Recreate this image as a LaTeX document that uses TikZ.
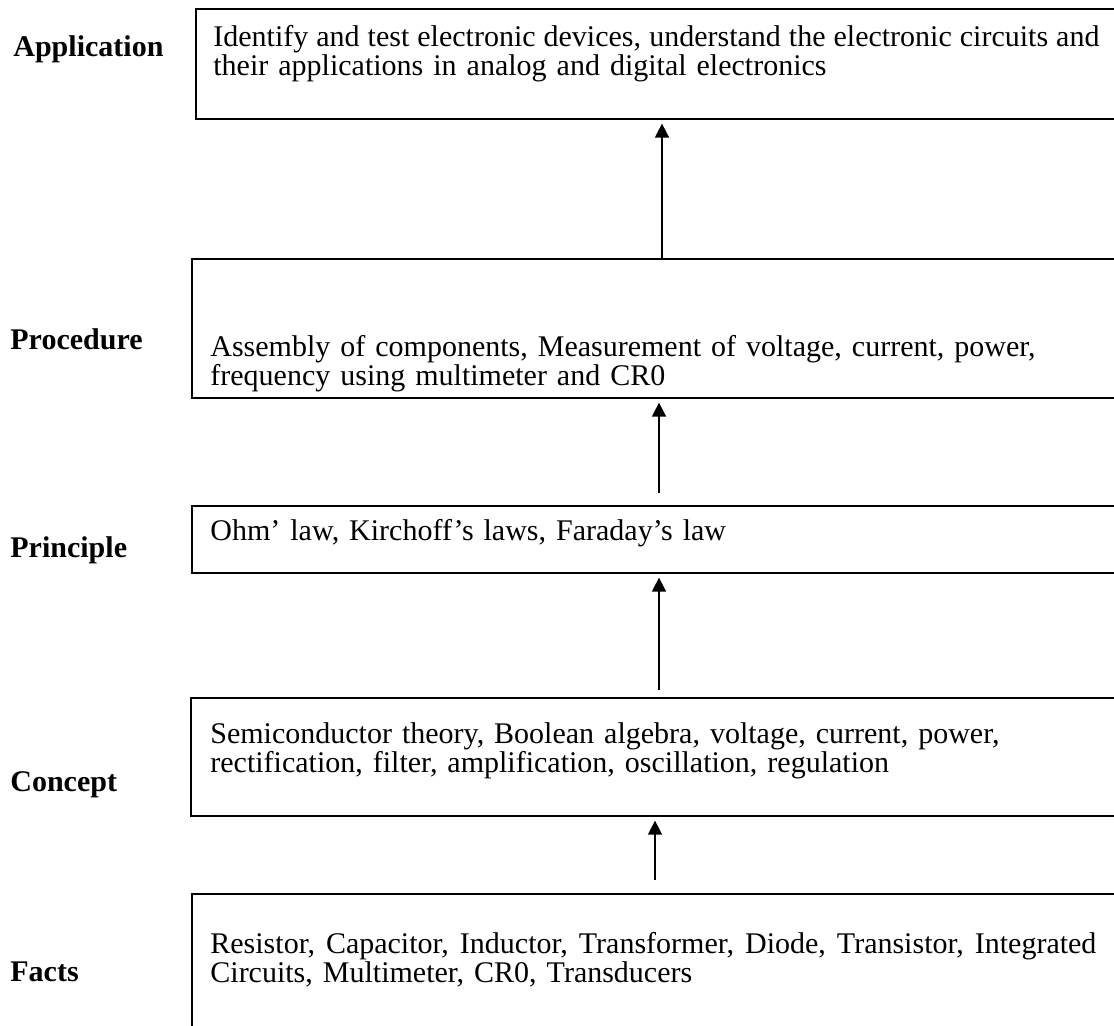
\documentclass[tikz,border=0pt]{standalone}
\usepackage{fontspec}
\setmainfont{Liberation Serif}
\usetikzlibrary{arrows.meta}
\newcommand{\fullline}[1]{{\spaceskip=0.25em plus 0.5em minus 0.12em\makebox[443pt][s]{#1}}}
\begin{document}
\begin{tikzpicture}[x=0.5pt,y=-0.5pt,
  box/.style={draw,line width=0.8pt,rectangle,inner sep=0pt,anchor=north west,minimum width=467.5pt},
  boxtext/.style={anchor=base west,inner sep=0pt,align=left,text width=460pt,font=\fontsize{15}{14.5}\selectfont},
  levellabel/.style={anchor=base west,inner sep=0pt,font=\fontsize{15}{15}\selectfont\bfseries},
  uparrow/.style={line width=0.75pt,shorten >=2pt,-{Triangle[width=7pt,length=7pt]}}]
\useasboundingbox (0,0) rectangle (1114,1025);
\clip (0,0) rectangle (1114,1025);
% boxes
\node[box,minimum height=55pt] (app) at (195,8) {};
\node[box,minimum height=69.5pt] (proc) at (191,258) {};
\node[box,minimum height=33.5pt] (princ) at (191,505) {};
\node[box,minimum height=59pt] (conc) at (190,697) {};
\node[box,minimum height=75pt] (facts) at (191,893) {};
% box texts
\node[boxtext] (apptext) at (213,46) {\fullline{Identify and test electronic devices, understand the electronic circuits and}\\their applications in analog and digital electronics};
\node[boxtext] (proctext) at (210,356) {Assembly of components, Measurement of voltage, current, power,\\frequency using multimeter and CR0};
\node[boxtext] (princtext) at (210,540) {Ohm’ law, Kirchoff’s laws, Faraday’s law};
\node[boxtext] (conctext) at (210,743) {Semiconductor theory, Boolean algebra, voltage, current, power,\\rectification, filter, amplification, oscillation, regulation};
\node[boxtext] (factstext) at (210,953) {\fullline{Resistor, Capacitor, Inductor, Transformer, Diode, Transistor, Integrated}\\Circuits, Multimeter, CR0, Transducers};
% labels
\node[levellabel] (lapp) at (13,56) {Application};
\node[levellabel] (lproc) at (10,349) {Procedure};
\node[levellabel] (lprinc) at (10,557) {Principle};
\node[levellabel] (lconc) at (10,791) {Concept};
\node[levellabel] (lfacts) at (10,981) {Facts};
% arrows
\coordinate (a1s) at (662,258);
\coordinate (a2s) at (659,493);
\coordinate (a3s) at (659,690);
\coordinate (a4s) at (655,880);
\draw[uparrow] (a1s) -- (app.south -| a1s);
\draw[uparrow] (a2s) -- (proc.south -| a2s);
\draw[uparrow] (a3s) -- (princ.south -| a3s);
\draw[uparrow] (a4s) -- (conc.south -| a4s);
\end{tikzpicture}
\end{document}
